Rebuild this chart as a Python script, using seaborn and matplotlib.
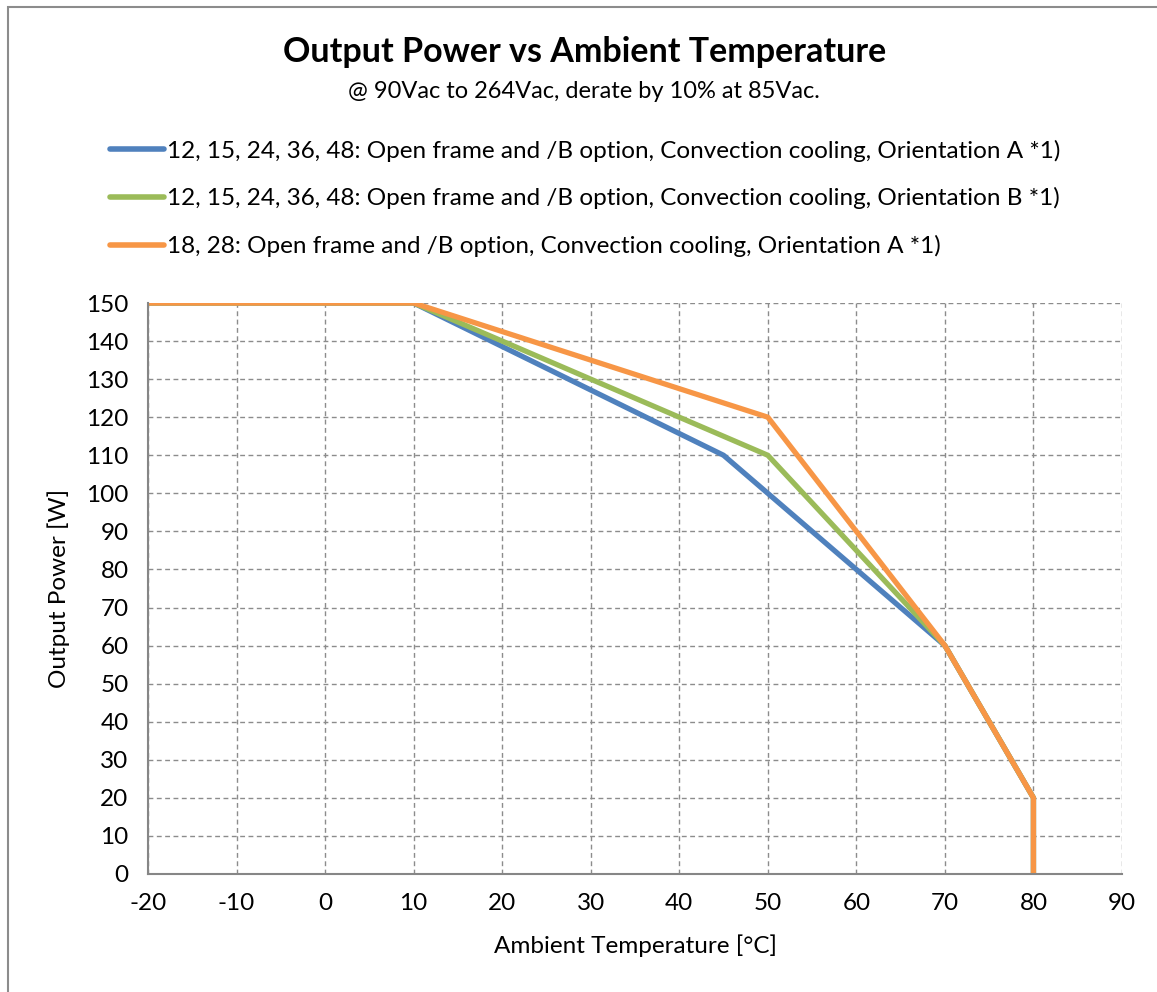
import pandas as pd
import numpy as np
import matplotlib.pyplot as plt
import seaborn as sns
from matplotlib.patches import Rectangle

sns.set_theme(style="white")
plt.rcParams['font.family'] = ['Lato', 'DejaVu Sans']
plt.rcParams['axes.unicode_minus'] = False
plt.rcParams['text.color'] = 'black'
plt.rcParams['axes.labelcolor'] = 'black'

temp_a = [-20, 10, 45, 70, 80, 80]
power_a = [150, 150, 110, 60, 20, 0]
temp_b = [-20, 10, 50, 70, 80, 80]
power_b = [150, 150, 110, 60, 20, 0]
temp_c = [-20, 10, 50, 70, 80, 80]
power_c = [150, 150, 120, 60, 20, 0]

labels = [
    "12, 15, 24, 36, 48: Open frame and /B option, Convection cooling, Orientation A *1)",
    "12, 15, 24, 36, 48: Open frame and /B option, Convection cooling, Orientation B *1)",
    "18, 28: Open frame and /B option, Convection cooling, Orientation A *1)",
]
colors = ["#4F81BD", "#9BBB59", "#F79646"]

frames = []
for lab, t, p in zip(labels, [temp_a, temp_b, temp_c], [power_a, power_b, power_c]):
    d = pd.DataFrame({"temp": t, "power": p})
    d["series"] = lab
    frames.append(d)
df = pd.concat(frames, ignore_index=True)

fig = plt.figure(figsize=(11.57, 9.92), dpi=100)
ax = fig.add_axes([148 / 1157, 1 - 874 / 992, (1122 - 148) / 1157, (874 - 303) / 992])

sns.lineplot(data=df, x="temp", y="power", hue="series", palette=colors,
             sort=False, estimator=None, linewidth=3.8, ax=ax, legend=False)

ax.set_xlim(-20, 90)
ax.set_ylim(0, 150)
ax.set_xticks(np.arange(-20, 91, 10))
ax.set_yticks(np.arange(0, 151, 10))
ax.grid(True, linestyle=(0, (3.5, 2.5)), color="#8c8c8c", linewidth=1.0)
ax.set_axisbelow(True)
for s in ["top", "right"]:
    ax.spines[s].set_visible(False)
for s in ["left", "bottom"]:
    ax.spines[s].set_color("#868686")
    ax.spines[s].set_linewidth(1.5)
ax.tick_params(axis="both", which="major", labelsize=17.5, colors="#868686",
               labelcolor="black", length=7, width=1.2, direction="out", pad=7)
ax.set_xlabel("Ambient Temperature [°C]", fontsize=17.5, labelpad=14)
ax.set_ylabel("Output Power [W]", fontsize=17.5, labelpad=12)

fig.text(0.505, 1 - 52 / 992, "Output Power vs Ambient Temperature",
         ha="center", va="center", fontsize=24.5, fontweight="bold")
fig.text(0.505, 1 - 92 / 992, "@ 90Vac to 264Vac, derate by 10% at 85Vac.",
         ha="center", va="center", fontsize=17)

handles = [plt.Line2D([], [], color=c, linewidth=4, solid_capstyle="round") for c in colors]
fig.legend(handles, labels, loc="upper left", bbox_to_anchor=(100 / 1157, 1 - 130 / 992),
           frameon=False, fontsize=17.5, handlelength=2.25, handletextpad=0.1,
           labelspacing=1.05, borderaxespad=0)

fig.patches.append(Rectangle((8 / 1157, -0.1), 1.2, 1 - 7 / 992 + 0.1, transform=fig.transFigure,
                             fill=False, edgecolor="#8c8c8c", linewidth=1.5))

fig.savefig("out.png", dpi=100)
